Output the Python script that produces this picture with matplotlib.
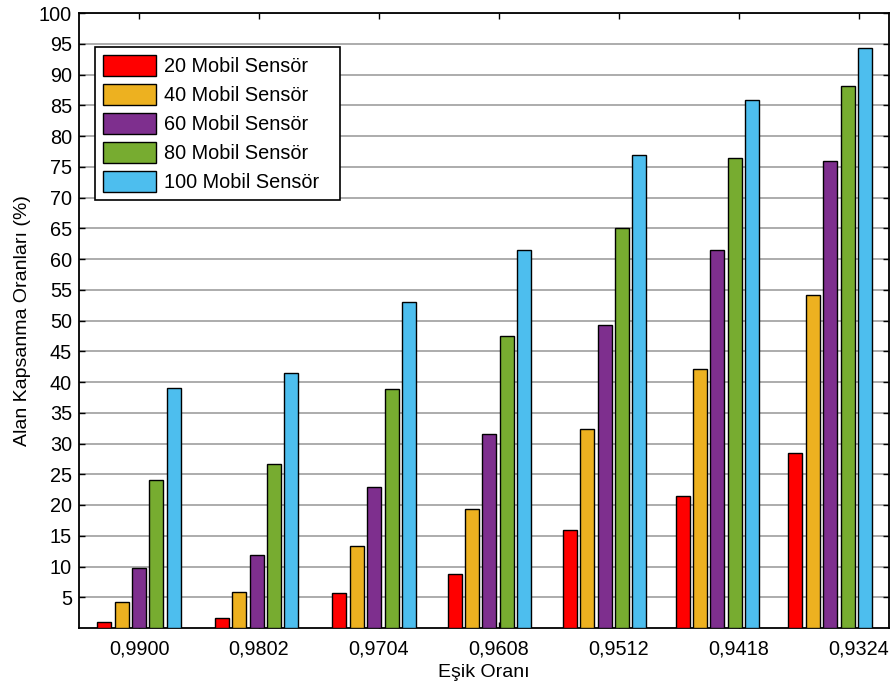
import matplotlib
matplotlib.use("Agg")
import matplotlib.pyplot as plt
import numpy as np

thresholds = [0.9900, 0.9802, 0.9704, 0.9608, 0.9512, 0.9418, 0.9324]
tick_labels = ["0,9900", "0,9802", "0,9704", "0,9608", "0,9512", "0,9418", "0,9324"]
tick_positions = [0.99, 0.98, 0.97, 0.96, 0.95, 0.94, 0.93]
series_names = ["20 Mobil Sensör", "40 Mobil Sensör", "60 Mobil Sensör",
                "80 Mobil Sensör", "100 Mobil Sensör"]
s20 = [0.9, 1.7, 5.7, 8.8, 15.9, 21.5, 28.4]
s40 = [4.2, 5.9, 13.4, 19.4, 32.4, 42.1, 54.2]
s60 = [9.8, 11.9, 23.0, 31.5, 49.2, 61.5, 76.0]
s80 = [24.0, 26.7, 38.8, 47.5, 65.0, 76.5, 88.2]
s100 = [39.0, 41.5, 53.0, 61.5, 76.9, 85.9, 94.3]
series = [s20, s40, s60, s80, s100]
colors = ["#FF0000", "#EDB120", "#7E2F8E", "#77AC30", "#4DBEEE"]

plt.rcParams['font.family'] = ['Liberation Sans', 'DejaVu Sans']
fig = plt.figure(figsize=(8.92, 6.86), dpi=100)
ax = fig.add_axes([79/892, 1 - 628/686, 810/892, 615/686])

step = 0.00145
width = 0.00118
x = np.array(thresholds)
for i, (vals, c, name) in enumerate(zip(series, colors, series_names)):
    off = (2 - i) * step
    ax.bar(x + off, vals, width=width, color=c, edgecolor='black',
           linewidth=1.0, label=name, zorder=3)

ax.set_xlim(0.995, 0.9275)
ax.set_ylim(0, 100)
ax.set_xticks(tick_positions)
ax.set_xticklabels(tick_labels)
ax.set_yticks(np.arange(5, 101, 5))
ax.tick_params(axis='both', direction='in', length=4, width=1,
               top=True, right=True, labelsize=14.3)
ax.tick_params(axis='x', pad=8)
ax.tick_params(axis='y', pad=5)
ax.yaxis.grid(True, color='#9e9e9e', linewidth=1.2, zorder=0)
ax.set_axisbelow(True)
for s in ax.spines.values():
    s.set_linewidth(1.3)
    s.set_color('black')

ax.set_xlabel("Eşik Oranı", fontsize=14, labelpad=4)
ax.set_ylabel("Alan Kapsanma Oranları (%)", fontsize=14, labelpad=6)

leg = ax.legend(loc='upper left', bbox_to_anchor=(0.0198, 0.701, 0.3025, 0.244),
                mode='expand', fontsize=14.3,
                fancybox=False, edgecolor='black', framealpha=1,
                handlelength=2.65, handleheight=1.25, labelspacing=0.4,
                borderpad=0.4, handletextpad=0.4, borderaxespad=0)
leg.get_frame().set_linewidth(1.2)

fig.savefig("out.png", dpi=100)
